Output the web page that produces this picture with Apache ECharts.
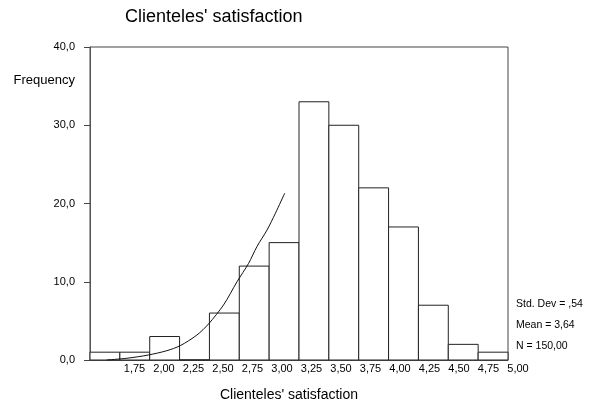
<!DOCTYPE html>
<html>
<head>
<meta charset="utf-8">
<script src="https://cdn.jsdelivr.net/npm/echarts@6/dist/echarts.min.js"></script>
<style>
html,body{margin:0;padding:0;background:#fff;}
#chart{width:596px;height:404px;}
</style>
</head>
<body>
<div id="chart"></div>
<script>
// Histogram bins (bin centres) and frequencies
const binCenters = [1.50, 1.75, 2.00, 2.25, 2.50, 2.75, 3.00, 3.25, 3.50, 3.75, 4.00, 4.25, 4.50, 4.75];
const frequencies = [1, 1, 3, 0, 6, 12, 15, 33, 30, 22, 17, 7, 2, 1];
const binWidth = 0.25;
// x-axis tick labels (bin centres)
const xTickLabels = [1.75, 2.00, 2.25, 2.50, 2.75, 3.00, 3.25, 3.50, 3.75, 4.00, 4.25, 4.50, 4.75, 5.00];
const yTicks = [0, 10, 20, 30, 40];
// normal curve as drawn (partial)
const curveX = [1.515, 1.683, 1.864, 2.018, 2.130, 2.270, 2.367, 2.493, 2.606, 2.703, 2.773, 2.857, 2.927, 3.005];
const curveY = [0, 0.22, 0.64, 1.19, 1.83, 3.19, 4.6, 7.03, 10.0, 12.35, 14.5, 16.6, 18.74, 21.3];
// statistics
const stats = ["Std. Dev = ,54", "Mean = 3,64", "N = 150,00"];

const FONT = "Liberation Sans, Arial, sans-serif";
const fmt = (v, d) => v.toFixed(d).replace('.', ',');

const chart = echarts.init(document.getElementById('chart'), null, {renderer: 'canvas'});

const histData = binCenters.map((c, i) => [c, frequencies[i]]);
const curveData = curveX.map((x, i) => [x, curveY[i]]);

const option = {
  animation: false,
  backgroundColor: '#fff',
  textStyle: {fontFamily: FONT},
  title: [
    {text: "Clienteles' satisfaction", left: 120, top: 3,
     textStyle: {fontSize: 18, fontWeight: 'normal', color: '#000', fontFamily: FONT}},
    ...stats.map((s, i) => ({
      text: s, left: 516, top: 299 + i * 21, padding: 0,
      textStyle: {fontSize: 10.5, fontWeight: 'normal', color: '#000', fontFamily: FONT}
    }))
  ],
  grid: [
    {left: 90, right: 88, top: 47, bottom: 44, show: true, borderColor: '#444', borderWidth: 1, backgroundColor: 'transparent', containLabel: false, outerBoundsMode: 'none'},
    {left: 105, right: 78, top: 47, bottom: 44, show: false, containLabel: false, outerBoundsMode: 'none'}
  ],
  xAxis: [
    {type: 'value', gridIndex: 0, min: binCenters[0] - binWidth / 2, max: binCenters[binCenters.length - 1] + binWidth / 2,
     axisLine: {show: true, onZero: false, lineStyle: {color: '#555', width: 1}},
     axisTick: {show: false}, axisLabel: {show: false}, splitLine: {show: false},
     name: "Clienteles' satisfaction", nameLocation: 'middle', nameGap: 28,
     nameTextStyle: {fontSize: 14, color: '#000', fontFamily: FONT, padding: [0, 20, 0, 0]}},
    {type: 'value', gridIndex: 1, min: 1.5, max: 5.0, interval: 0.25,
     axisLine: {show: false}, axisTick: {show: false}, splitLine: {show: false},
     axisLabel: {show: true, margin: 3, fontSize: 11, color: '#000', fontFamily: FONT,
       showMinLabel: true, showMaxLabel: true,
       formatter: v => (xTickLabels.some(t => Math.abs(t - v) < 1e-6) ? fmt(v, 2) : '')}}
  ],
  yAxis: [
    {type: 'value', gridIndex: 0, min: yTicks[0], max: yTicks[yTicks.length - 1], interval: 10,
     axisLine: {show: true, lineStyle: {color: '#555', width: 1}},
     axisTick: {show: true, length: 6, lineStyle: {color: '#444'}},
     axisLabel: {margin: 15, fontSize: 11, color: '#000', fontFamily: FONT, formatter: v => fmt(v, 1)},
     splitLine: {show: false},
     name: 'Frequency', nameLocation: 'end', nameGap: -33,
     nameTextStyle: {fontSize: 13, color: '#000', fontFamily: FONT, align: 'right', verticalAlign: 'middle', padding: [0, 15, 0, 0]}},
    {type: 'value', gridIndex: 1, min: 0, max: 40, show: false}
  ],
  series: [
    {
      type: 'custom', xAxisIndex: 0, yAxisIndex: 0, z: 2,
      data: histData,
      renderItem: function (params, api) {
        const c = api.value(0), f = api.value(1);
        const p0 = api.coord([c - binWidth / 2, f]);
        const p1 = api.coord([c + binWidth / 2, 0]);
        return {
          type: 'rect',
          shape: {x: p0[0], y: p0[1], width: p1[0] - p0[0], height: p1[1] - p0[1]},
          style: {fill: '#fff', stroke: '#222', lineWidth: 1}
        };
      }
    },
    {
      type: 'line', xAxisIndex: 0, yAxisIndex: 0, z: 3,
      data: curveData, smooth: 0.3, symbol: 'none',
      lineStyle: {color: '#111', width: 1}
    }
  ]
};
chart.setOption(option);
</script>
</body>
</html>
